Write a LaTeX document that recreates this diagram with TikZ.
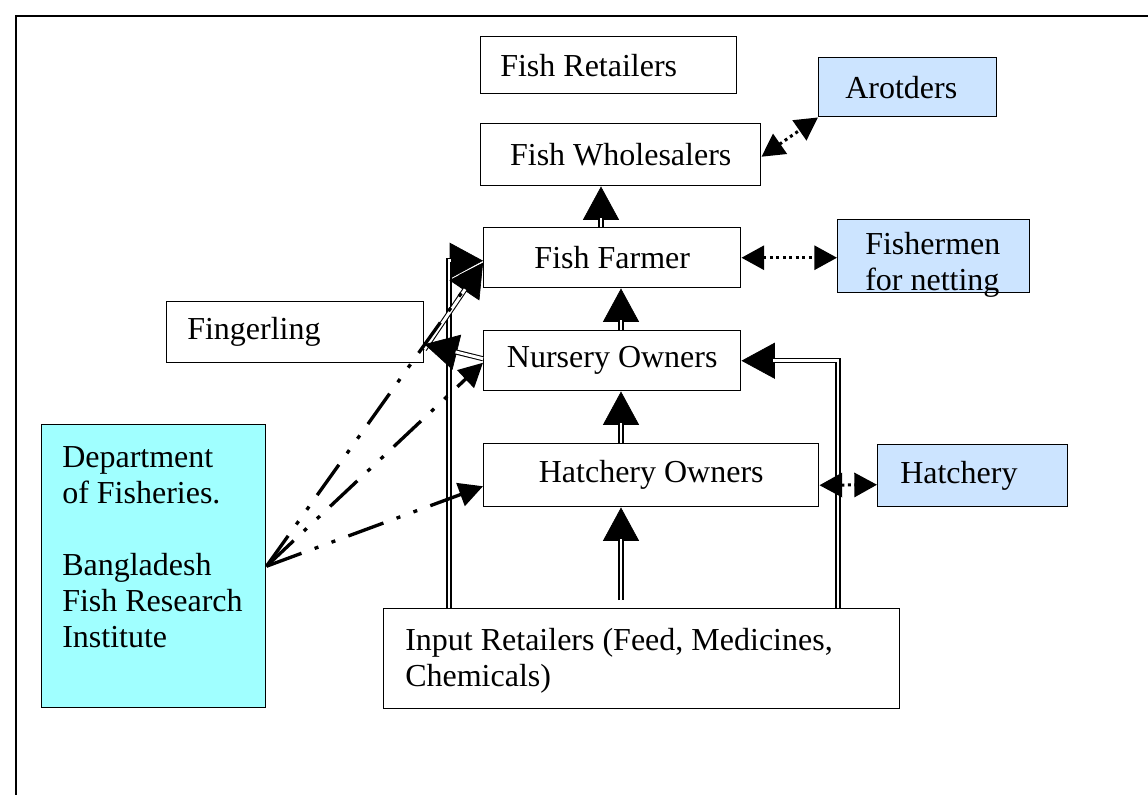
\documentclass[tikz,border=0pt]{standalone}
\usepackage{fontspec}
\setmainfont{Liberation Serif}
\usetikzlibrary{arrows.meta,calc}
\definecolor{lblue}{RGB}{204,228,255}
\definecolor{lcyan}{RGB}{160,255,255}
\newcommand\dblarr[3]{\draw[bigtip] #1 #2 #3; \draw[shaft] #1 #2 #3;}
\begin{document}
\begin{tikzpicture}[x=0.75pt,y=-0.75pt,
  font=\fontsize{24}{27}\selectfont,
  box/.style={draw, line width=1.1pt, inner sep=0pt, anchor=north west},
  txt/.style={anchor=north west, inner sep=0pt, align=left},
  ltxt/.style={anchor=west, inner sep=0pt},
  bigtip/.style={-{Triangle[length=25pt,width=27pt]}, line width=0.5pt},
  shaft/.style={draw, line width=0.8pt, double=white, double distance=2.2pt, shorten >=24pt},
  dashdot/.style={draw, line width=2.5pt, dash pattern=on 28pt off 10.5pt on 3pt off 10.5pt on 3pt off 10.5pt, -{Triangle[length=18pt,width=18pt]}},
  dotarr/.style={draw, line width=2.25pt, dash pattern=on 2.25pt off 2.6pt, {Triangle[length=17pt,width=18pt]}-{Triangle[length=17pt,width=18pt]}}]
\useasboundingbox (0,0) rectangle (1148,795);
\draw[line width=1pt] (16,800) -- (16,16) -- (1150,16);

% boxes
\node[box, minimum width=192pt, minimum height=42.75pt] (fr) at (480,36) {};
\node[box, fill=lblue, minimum width=133.5pt, minimum height=44.25pt] (aro) at (818,57) {};
\node[box, minimum width=210pt, minimum height=46.5pt] (fw) at (480,123) {Fish Wholesalers};
\node[box, minimum width=192.75pt, minimum height=45pt] (ff) at (483,227) {Fish Farmer};
\node[box, fill=lblue, minimum width=144pt, minimum height=54.75pt] (fish) at (837,219) {};
\node[box, minimum width=192.75pt, minimum height=45.75pt] (fing) at (166,301) {};
\node[box, minimum width=192.75pt, minimum height=45pt] (no) at (483,330) {Nursery Owners};
\node[box, minimum width=251.25pt, minimum height=47.25pt] (ho) at (483,443) {Hatchery Owners};
\node[box, fill=lblue, minimum width=142.5pt, minimum height=46.5pt] (hat) at (877,444) {};
\node[box, fill=lcyan, minimum width=168pt, minimum height=212.25pt] (dept) at (41,424) {};
\node[box, minimum width=387pt, minimum height=75pt] (inp) at (383,608) {};

% left-aligned texts
\node[ltxt] (frt) at ($(fr.west)+(20,0)$) {Fish Retailers};
\node[ltxt] (arot) at ($(aro.west)+(27,0)$) {Arotders};
\node[ltxt] (fingt) at ($(fing.west)+(21,0)$) {Fingerling};
\node[ltxt] (hatt) at ($(hat.west)+(23,0)$) {Hatchery};
\node[txt] (fisht) at (865,232) {Fishermen\\for netting};
\node[txt] (deptt) at (62,446) {Department\\of Fisheries.\\[27pt]Bangladesh\\Fish Research\\Institute};
\node[txt] (inpt) at (405,628) {Input Retailers (Feed, Medicines,\\Chemicals)};

% x positions of vertical connectors
\coordinate (xa) at (601,0);
\coordinate (xb) at (621,0);
\coordinate (xl) at (449,0);
\coordinate (xr) at (838,0);

% double-line arrows
\dblarr{(ff.north -| xa)}{--}{(fw.south -| xa)}
\dblarr{(no.north -| xb)}{--}{(ff.south -| xb)}
\dblarr{(ho.north -| xb)}{--}{(no.south -| xb)}
\dblarr{($(inp.north -| xb)+(0,-8)$)}{--}{(ho.south -| xb)}
\dblarr{(inp.north -| xr)}{|-}{(no.east)}
\dblarr{(inp.north -| xl)}{|-}{($(ff.west)+(0,3)$)}
\dblarr{($(fing.south east)+(0,-14)$)}{--}{($(ff.west)+(0,5)$)}
\dblarr{($(no.west)+(0,-2)$)}{--}{($(fing.east)+(0,12)$)}

% dash-dot arrows
\draw[dashdot] (dept.east) -- ($(ff.west)+(0,5)$);
\draw[dashdot] (dept.east) -- ($(no.west)+(0,2)$);
\draw[dashdot] (dept.east) -- ($(ho.west)+(0,11)$);

% dotted double-headed arrows
\draw[dotarr] ($(fw.east)+(0,2)$) -- (aro.south west);
\draw[dotarr] (ff.east) -- (ff.east -| fish.west);
\draw[dotarr] ($(ho.east)+(0,10)$) -- ($(hat.west)+(0,9)$);
\end{tikzpicture}
\end{document}
